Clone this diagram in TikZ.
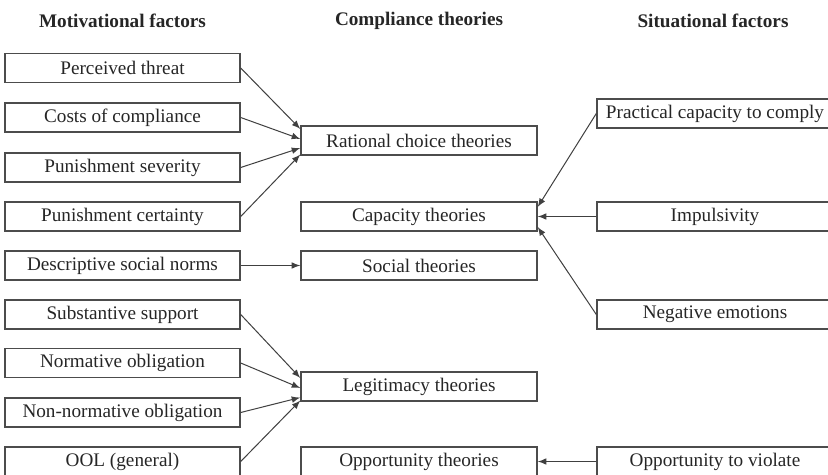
\documentclass[tikz,border=0pt]{standalone}
\usepackage{fontspec}
\setmainfont{Liberation Serif}
\usetikzlibrary{arrows}
\tikzset{every node/.style={text=black!85, font=\fontsize{9.6}{11}\selectfont}}
\tikzset{box/.style={draw=black!70, line width=0.7pt, minimum width=117.5pt, minimum height=14.5pt, inner sep=0pt},
         head/.style={font=\fontsize{9.6}{11}\selectfont\bfseries},
         link/.style={-latex, black!75, line width=0.5pt}}

\begin{document}
\begin{tikzpicture}[x=0.5pt,y=-0.5pt]
   \clip (0,0) rectangle (828,475);
   \fill[white] (0,0) rectangle (828,475);

   \node[head] (h1) at (122.5,21) {Motivational factors};
   \node[head] (h2) at (419,21) {Compliance theories};
   \node[head] (h3) at (713,21) {Situational factors};

   \node[box] (pt)  at (122.5, 68.0) {Perceived threat};
   \node[box] (cc)  at (122.5,117.5) {Costs of compliance};
   \node[box] (ps)  at (122.5,167.5) {Punishment severity};
   \node[box] (pc)  at (122.5,216.5) {Punishment certainty};
   \node[box] (dsn) at (122.5,265.5) {Descriptive social norms};
   \node[box] (ss)  at (122.5,314.5) {Substantive support};
   \node[box] (no)  at (122.5,363.0) {Normative obligation};
   \node[box] (nno) at (122.5,412.5) {Non-normative obligation};
   \node[box] (ool) at (122.5,461.5) {OOL (general)};

   \node[box,minimum width=118pt] (rc)  at (419,140.5) {Rational choice theories};
   \node[box,minimum width=118pt] (cap) at (419,216.5) {Capacity theories};
   \node[box,minimum width=118pt] (soc) at (419,265.5) {Social theories};
   \node[box,minimum width=118pt] (leg) at (419,386.5) {Legitimacy theories};
   \node[box,minimum width=118pt] (opp) at (419,461.5) {Opportunity theories};

   \node[box,minimum width=118pt] (pcc) at (715,113.5) {Practical capacity to comply};
   \node[box,minimum width=118pt] (imp) at (715,216.5) {Impulsivity};
   \node[box,minimum width=118pt] (neg) at (715,314.5) {Negative emotions};
   \node[box,minimum width=118pt] (otv) at (715,461.5) {Opportunity to violate};

   % rational choice
   \draw[link] (pt.east) -- ([yshift= 5.75pt]rc.west);
   \draw[link] (cc.east) -- ([yshift= 0.75pt]rc.west);
   \draw[link] (ps.east) -- ([yshift=-3.75pt]rc.west);
   \draw[link] (pc.east) -- ([yshift=-7.0pt]rc.west);

   % social
   \draw[link] (dsn.east) -- (soc.west);

   % legitimacy
   \draw[link] (ss.east)  -- ([yshift= 4.25pt]leg.west);
   \draw[link] (no.east)  -- ([yshift=-0.75pt]leg.west);
   \draw[link] (nno.east) -- ([yshift=-5.5pt]leg.west);
   \draw[link] (ool.east) -- ([yshift=-7.0pt]leg.west);

   % capacity
   \draw[link] (pcc.west) -- ([yshift= 4.75pt]cap.east);
   \draw[link] (imp.west) -- (cap.east);
   \draw[link] (neg.west) -- ([yshift=-5.25pt]cap.east);

   % opportunity
   \draw[link] (otv.west) -- (opp.east);
\end{tikzpicture}
\end{document}
